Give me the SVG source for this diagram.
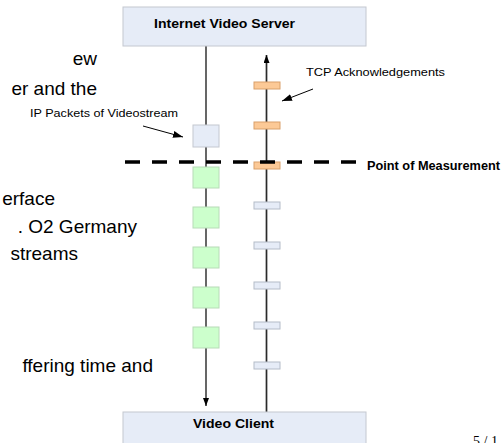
<svg xmlns="http://www.w3.org/2000/svg" width="502" height="443" viewBox="0 0 502 443">
<style>
.slide{font-family:"Liberation Sans",Arial,sans-serif;font-size:19px;fill:#000;text-anchor:end}
.page{font-family:"Liberation Serif","Times New Roman",serif;font-size:14px;fill:#000}
.node{fill:#e6ecf7;stroke:#c4c8d0;stroke-width:1}
.nlabel{font-family:"Liberation Sans",Arial,sans-serif;font-size:13px;font-weight:bold;fill:#000}
.lbl{font-family:"Liberation Sans",Arial,sans-serif;font-size:11.5px;fill:#000}
.pkt{fill:#e6ecf7;stroke:#c4c8d0;stroke-width:1}
.data{fill:#ccffcc;stroke:#b8dcb8;stroke-width:1}
.ack{fill:#fcc996;stroke:#d9a06a;stroke-width:1}
.ackb{fill:#e6ecf7;stroke:#b4bcc8;stroke-width:1}
.wire{stroke:#000;stroke-width:1.2;fill:none}
.wire2{stroke:#2a2a2a;stroke-width:1.7;fill:none}
.thin{stroke:#000;stroke-width:1;fill:none}
.meas{stroke:#000;stroke-width:3.5;stroke-dasharray:15 12;fill:none}
</style>
<defs>
<marker id="ah" viewBox="0 0 8 6" refX="8" refY="3" markerWidth="8" markerHeight="6" markerUnits="userSpaceOnUse" orient="auto"><path d="M0,0L8,3L0,6z" fill="#000"/></marker>
<marker id="ah2" viewBox="0 0 10 7" refX="10" refY="3.5" markerWidth="10" markerHeight="7" markerUnits="userSpaceOnUse" orient="auto"><path d="M0,0L10,3.5L0,7z" fill="#000"/></marker>
</defs>
<g id="slide-text">
<text class="slide" x="97" y="65">ew</text>
<text class="slide" x="97" y="95">er and the</text>
<text class="slide" x="55" y="205">erface</text>
<text class="slide" x="137" y="233">. O2 Germany</text>
<text class="slide" x="78" y="260">streams</text>
<text class="slide" x="153" y="372">ffering time and</text>
<text class="page" x="473" y="446">5 / 1</text>
</g>
<g id="connectors">
<path class="wire" d="M206,46V406" marker-end="url(#ah)"/>
<path class="wire2" d="M266.5,412V55" marker-end="url(#ah)"/>
<path class="thin" d="M143,126L183,137" marker-end="url(#ah2)"/>
<path class="thin" d="M313,89L282,101" marker-end="url(#ah2)"/>
</g>
<g id="server">
<rect class="node" x="123" y="7" width="243" height="39"/>
<text class="nlabel" x="154" y="28" textLength="141" lengthAdjust="spacingAndGlyphs">Internet Video Server</text>
</g>
<g id="client">
<rect class="node" x="123" y="412" width="243" height="40"/>
<text class="nlabel" x="193" y="428" textLength="81" lengthAdjust="spacingAndGlyphs">Video Client</text>
</g>
<g id="ip-packet">
<rect class="pkt" x="193" y="125" width="26" height="22"/>
<text class="lbl" x="30" y="117" textLength="148" lengthAdjust="spacingAndGlyphs">IP Packets of Videostream</text>
</g>
<g id="data-packets">
<rect class="data" x="193" y="167" width="26" height="21"/>
<rect class="data" x="193" y="207" width="26" height="21"/>
<rect class="data" x="193" y="247" width="26" height="21"/>
<rect class="data" x="193" y="287" width="26" height="21"/>
<rect class="data" x="193" y="327" width="26" height="21"/>
</g>
<g id="tcp-acks">
<rect class="ack" x="254" y="82" width="26" height="7"/>
<rect class="ack" x="254" y="122" width="26" height="7"/>
<rect class="ack" x="254" y="162" width="26" height="7"/>
<text class="lbl" x="306" y="76" textLength="139" lengthAdjust="spacingAndGlyphs">TCP Acknowledgements</text>
</g>
<g id="ack-packets">
<rect class="ackb" x="254" y="202" width="26" height="7"/>
<rect class="ackb" x="254" y="242" width="26" height="7"/>
<rect class="ackb" x="254" y="282" width="26" height="7"/>
<rect class="ackb" x="254" y="322" width="26" height="7"/>
<rect class="ackb" x="254" y="362" width="26" height="7"/>
</g>
<g id="measurement">
<path class="meas" d="M125,162H356"/>
<text class="nlabel" x="367" y="170" font-size="12" textLength="133" lengthAdjust="spacingAndGlyphs">Point of Measurement</text>
</g>
</svg>
